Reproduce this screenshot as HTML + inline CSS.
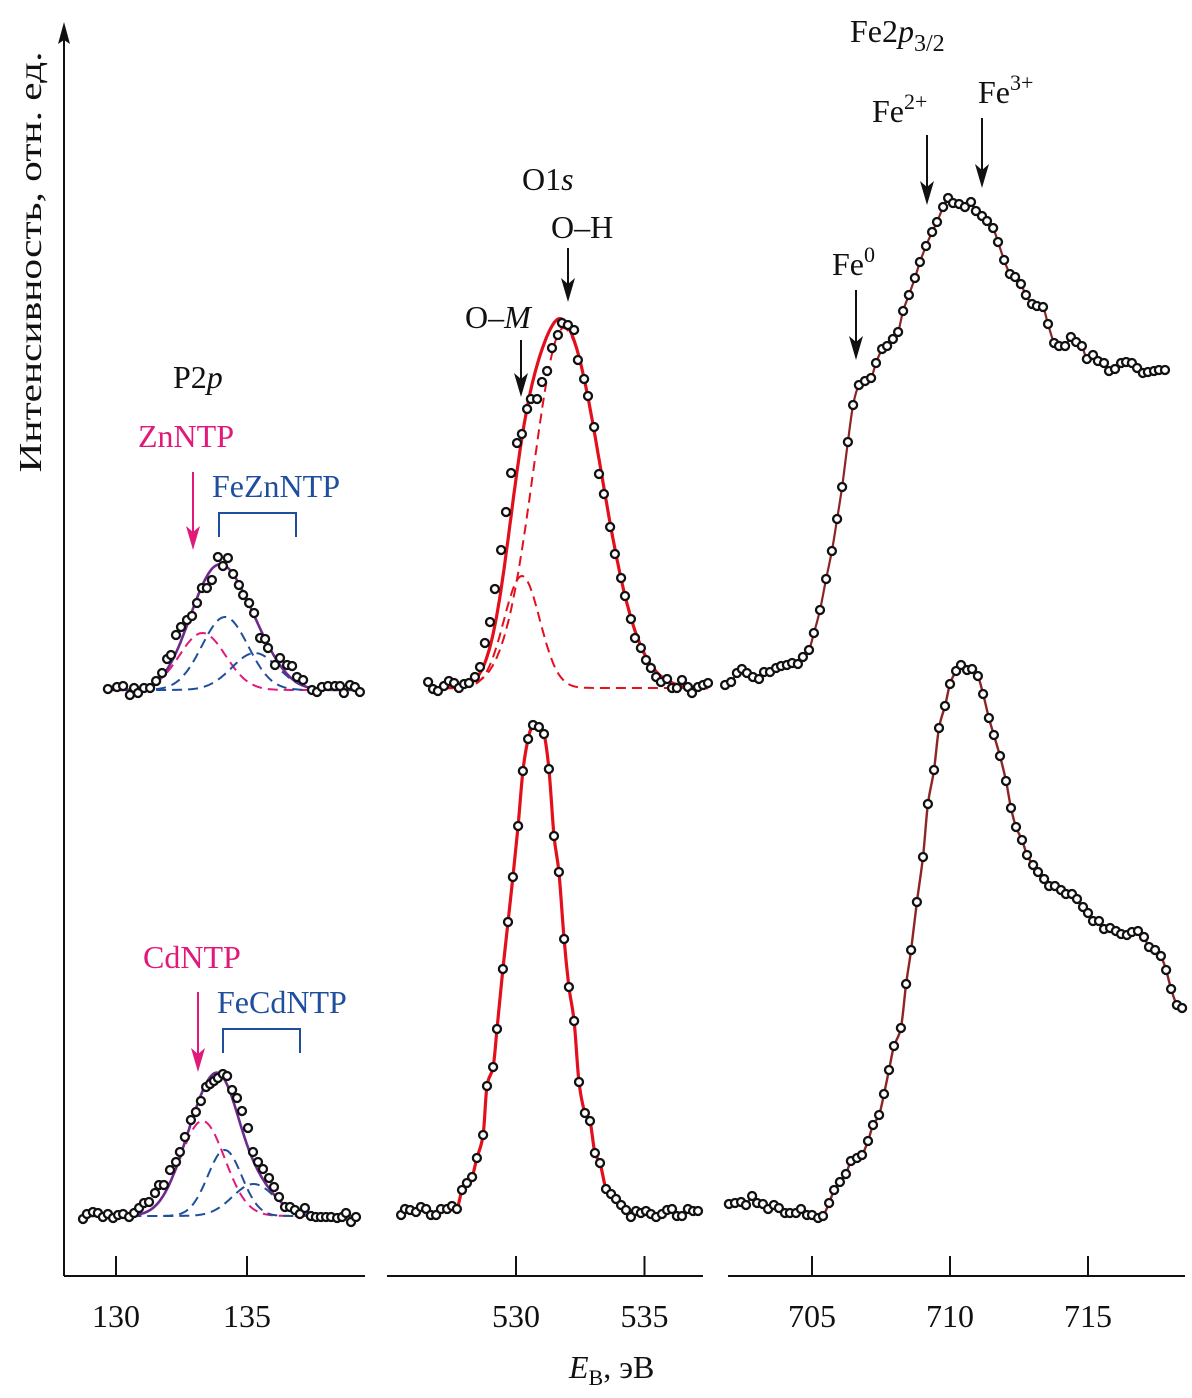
<!DOCTYPE html>
<html><head><meta charset="utf-8"><title>XPS spectra</title>
<style>
html,body{margin:0;padding:0;background:#fff;}
svg{display:block;font-family:"Liberation Serif","Noto Serif CJK SC",serif;}
</style></head>
<body>
<svg id="chart" width="1192" height="1398" viewBox="0 0 1192 1398" xmlns="http://www.w3.org/2000/svg">
<rect width="1192" height="1398" fill="#fff"/>
<g id="axes"></g>
<g id="curves"></g>
<g id="markers"></g>
<g id="annot" font-size="32" fill="#111">
  <text x="30" y="262" transform="rotate(-90 30 262)" text-anchor="middle" textLength="421" lengthAdjust="spacingAndGlyphs" dominant-baseline="central">Интенсивность, отн. ед.</text>
  <text x="569" y="1378"><tspan font-style="italic">E</tspan><tspan font-size="22" dy="7">B</tspan><tspan dy="-7">, эВ</tspan></text>
  <text x="173" y="388">P2<tspan font-style="italic">p</tspan></text>
  <text x="138" y="447" fill="#e0197a">ZnNTP</text>
  <text x="212" y="497" fill="#1f4e9c">FeZnNTP</text>
  <text x="143" y="968" fill="#e0197a">CdNTP</text>
  <text x="217" y="1013" fill="#1f4e9c">FeCdNTP</text>
  <text x="522" y="190">O1<tspan font-style="italic">s</tspan></text>
  <text x="551" y="238">O–H</text>
  <text x="465" y="328">O–<tspan font-style="italic">M</tspan></text>
  <text x="850" y="42">Fe2<tspan font-style="italic">p</tspan><tspan font-size="24" dy="9">3/2</tspan></text>
  <text x="872" y="122">Fe<tspan font-size="22" dy="-13">2+</tspan></text>
  <text x="978" y="103">Fe<tspan font-size="22" dy="-13">3+</tspan></text>
  <text x="832" y="275">Fe<tspan font-size="22" dy="-13">0</tspan></text>
</g>
</svg>
<script>
// ---------- data (energies in eV, intensities in a.u. above baseline) ----------
const p2pTopE = [129.69,130.04,130.27,130.53,130.69,130.84,131.07,131.30,131.53,131.76,131.95,132.10,132.29,132.48,132.71,132.90,133.09,133.28,133.47,133.66,133.89,134.08,134.27,134.47,134.69,134.85,135.08,135.27,135.50,135.69,135.80,136.07,136.26,136.53,136.72,136.91,137.14,137.48,137.67,137.86,138.09,138.36,138.55,138.70,138.93,139.12,139.31];
const p2pTopI = [1,3,4,-5,2,-3,2,2,9,17,31,35,55,63,70,74,87,102,102,110,133,124,132,116,105,95,87,77,52,51,42,25,32,25,24,13,10,0,-2,3,4,4,4,-3,5,3,-2];
// components: [centre eV, height, sigma-left eV, sigma-right eV]
const p2pTopComp = [[133.3,57,0.88,0.88],[134.16,73,0.88,0.88],[135.3,37,0.88,0.88]];

const p2pBotE = [128.74,128.89,129.12,129.31,129.50,129.69,129.89,130.08,130.27,130.50,130.69,130.88,131.07,131.26,131.49,131.64,131.83,132.06,132.29,132.44,132.63,132.86,133.05,133.24,133.44,133.59,133.74,133.89,134.08,134.24,134.43,134.62,134.81,135.04,135.23,135.42,135.61,135.84,136.03,136.22,136.45,136.64,136.83,137.02,137.21,137.44,137.63,137.82,138.02,138.21,138.44,138.63,138.78,138.97,139.16];
const p2pBotI = [-3,2,4,3,-1,2,-2,1,2,-1,3,8,13,14,23,31,31,46,54,64,79,96,104,115,129,132,135,138,142,140,126,118,105,88,64,54,47,38,29,19,9,9,6,2,8,0,-1,-1,-1,-1,-2,-1,3,-6,-1];
const p2pBotComp = [[133.3,95,0.85,0.85],[134.15,66,0.65,0.65],[135.25,32,0.8,0.8]];

const o1sTopE = [526.58,526.77,526.96,527.20,527.39,527.59,527.78,527.98,528.17,528.40,528.60,528.79,528.99,529.18,529.42,529.61,529.81,530.04,530.23,530.43,530.58,530.82,531.01,531.21,531.40,531.63,531.79,532.02,532.26,532.41,532.65,532.80,533.04,533.23,533.42,533.66,533.85,534.09,534.24,534.47,534.63,534.86,535.06,535.25,535.45,535.64,535.88,536.07,536.26,536.46,536.69,536.85,537.08,537.28,537.47];
const o1sTopI = [6,-1,-3,2,7,5,0,4,5,11,21,45,66,99,138,176,215,245,254,279,289,289,306,317,340,353,365,363,358,328,309,292,261,214,194,161,134,110,92,69,50,40,28,20,11,6,9,0,0,8,1,-5,1,3,5];
const o1sTopComp = [[530.23,112,0.7,0.7],[531.85,360,1.17,1.45]];

const o1sBotE = [525.53,525.68,525.88,526.11,526.30,526.50,526.69,526.89,527.08,527.32,527.51,527.70,527.90,528.09,528.29,528.48,528.72,528.87,529.11,529.26,529.49,529.69,529.88,530.08,530.27,530.47,530.66,530.89,531.09,531.28,531.48,531.67,531.87,532.06,532.26,532.45,532.68,532.88,533.07,533.27,533.50,533.70,533.89,534.09,534.28,534.47,534.67,534.86,535.06,535.25,535.45,535.68,535.88,536.07,536.26,536.46,536.69,536.89,537.08];
const o1sBotI = [-1,5,4,2,7,5,-1,-1,5,5,8,5,24,31,37,56,79,128,147,185,245,292,337,388,443,475,489,487,480,445,378,342,275,227,193,132,101,93,61,51,25,20,15,9,4,-3,3,1,3,0,-3,0,4,5,-2,-2,5,3,3];

const feTopE = [701.85,702.07,702.28,702.46,702.64,702.86,703.08,703.26,703.48,703.70,703.88,704.09,704.28,704.49,704.67,704.89,705.07,705.29,705.51,705.72,705.91,706.09,706.30,706.49,706.70,706.92,707.14,707.32,707.54,707.72,707.93,708.12,708.30,708.51,708.73,708.91,709.13,709.35,709.53,709.75,709.93,710.11,710.33,710.54,710.76,710.94,711.16,711.34,711.56,711.74,711.96,712.17,712.36,712.57,712.75,712.97,713.15,713.37,713.55,713.77,713.95,714.17,714.38,714.57,714.78,714.96,715.18,715.36,715.58,715.76,715.98,716.20,716.38,716.59,716.78,716.99,717.17,717.39,717.57,717.79];
const feTopI = [5,8,17,21,17,13,11,18,18,22,24,25,27,26,33,40,57,80,111,139,171,203,248,285,305,309,312,327,341,344,351,358,379,395,412,428,444,458,468,483,492,487,486,483,488,479,474,469,462,448,430,416,413,406,395,386,384,383,366,347,344,344,353,348,344,331,335,329,327,319,321,327,328,327,322,317,318,319,320,320];

const feBotE = [701.99,702.21,702.43,702.61,702.83,703.01,703.22,703.41,703.62,703.80,704.02,704.20,704.42,704.60,704.82,705.00,705.22,705.40,705.62,705.80,706.01,706.23,706.41,706.63,706.81,707.03,707.21,707.43,707.61,707.79,707.97,708.22,708.41,708.59,708.80,709.02,709.20,709.42,709.60,709.82,710.00,710.22,710.40,710.62,710.80,711.01,711.20,711.41,711.59,711.81,712.03,712.21,712.39,712.61,712.79,713.01,713.19,713.41,713.59,713.80,714.02,714.20,714.42,714.60,714.82,715.00,715.18,715.40,715.58,715.80,716.01,716.20,716.41,716.59,716.81,717.03,717.21,717.43,717.64,717.83,718.01,718.22,718.41];
const feBotI = [11,12,13,10,19,12,11,6,10,7,2,2,2,6,0,0,-3,-1,12,25,33,41,54,57,60,74,90,100,121,145,169,187,231,265,313,358,411,445,487,509,531,544,550,545,546,539,521,497,480,459,434,407,388,375,360,350,343,336,329,329,325,321,321,316,308,302,294,294,286,287,284,281,280,283,284,278,268,265,259,245,226,210,207];

const ticksP2p = [130,135];
const ticksO1s = [530,535];
const ticksFe = [705,710,715];

// ---------- axis functions ----------
const xP2p = e => 116 + (e - 130) * 26.2;
const xO1s = e => 516 + (e - 530) * 25.7;
const xFe  = e => 812 + (e - 705) * 27.6;
const yAt = (base, I) => base - I;
const AXIS_Y = 1276;

const NS = "http://www.w3.org/2000/svg";
function mk(tag, attrs, parent){
  const el = document.createElementNS(NS, tag);
  for (const k in attrs) el.setAttribute(k, attrs[k]);
  parent.appendChild(el);
  return el;
}
const gAx = document.getElementById('axes');
const gCu = document.getElementById('curves');
const gMk = document.getElementById('markers');

// ---------- axes ----------
let yl = mk('line', {x1:64, y1:AXIS_Y, x2:64, y2:34, stroke:'#111', 'stroke-width':2}, gAx);


let ya = mk('path', {d:'M64 22 L58 44 L64 40 L70 44 Z', fill:'#111'}, gAx);



function drawAxis(name, x1, x2, ticks, fx){
  const l = mk('line', {x1:x1, y1:AXIS_Y, x2:x2, y2:AXIS_Y, stroke:'#111', 'stroke-width':2}, gAx);
  
  
  ticks.forEach(t => {
    const x = fx(t);
    const tk = mk('line', {x1:x, y1:AXIS_Y, x2:x, y2:AXIS_Y-20, stroke:'#111', 'stroke-width':2}, gAx);
    
    
    const tx = mk('text', {x:x, y:1327, 'text-anchor':'middle', 'font-size':32, fill:'#111'}, gAx);
    tx.textContent = t;
    
    
  });
}
drawAxis('p2p', 64, 365, ticksP2p, xP2p);
drawAxis('o1s', 387, 703, ticksO1s, xO1s);
drawAxis('fe', 728, 1185, ticksFe, xFe);

// ---------- helpers ----------
function gauss(e, c){ const s = e < c[0] ? c[2] : c[3]; return c[1] * Math.exp(-Math.pow((e - c[0]) / s, 2) / 2); }
function modelPath(fx, base, comps, e0, e1){
  let d = '';
  for (let e = e0; e <= e1 + 1e-9; e += 0.04){
    let s = 0; comps.forEach(c => s += gauss(e, c));
    d += (d ? 'L' : 'M') + fx(e).toFixed(1) + ' ' + yAt(base, s).toFixed(1);
  }
  return d;
}
function smoothPath(pts){
  let d = 'M' + pts[0][0].toFixed(1) + ' ' + pts[0][1].toFixed(1);
  for (let i = 0; i < pts.length - 1; i++){
    const p0 = pts[Math.max(0, i-1)], p1 = pts[i], p2 = pts[i+1], p3 = pts[Math.min(pts.length-1, i+2)];
    const c1x = p1[0] + (p2[0]-p0[0])/6, c1y = p1[1] + (p2[1]-p0[1])/6;
    const c2x = p2[0] - (p3[0]-p1[0])/6, c2y = p2[1] - (p3[1]-p1[1])/6;
    d += 'C' + c1x.toFixed(1)+' '+c1y.toFixed(1)+' '+c2x.toFixed(1)+' '+c2y.toFixed(1)+' '+p2[0].toFixed(1)+' '+p2[1].toFixed(1);
  }
  return d;
}
function drawMarkers(name, E, I, fx, base){
  E.forEach((e, i) => {
    const c = mk('circle', {cx:fx(e).toFixed(1), cy:yAt(base, I[i]).toFixed(1), r:4, fill:'#fff', stroke:'#111', 'stroke-width':2.3}, gMk);
    
    
  });
}
function drawComps(name, comps, colors, fx, base, e0, e1){
  comps.forEach((c, i) => {
    const p = mk('path', {d:modelPath(fx, base, [c], e0, e1), fill:'none', stroke:colors[i], 'stroke-width':2, 'stroke-dasharray':'10,6'}, gCu);
    
    
  });
  const t = mk('path', {d:modelPath(fx, base, comps, e0, e1), fill:'none', stroke: name.startsWith('o1s') ? '#e3101c' : '#6d2b8e', 'stroke-width': name.startsWith('o1s') ? 3.2 : 2.6}, gCu);
  
  
}
function drawSmooth(name, E, I, fx, base, color, w){
  const pts = E.map((e, i) => [fx(e), yAt(base, I[i])]);
  const p = mk('path', {d:smoothPath(pts), fill:'none', stroke:color, 'stroke-width':w}, gCu);
  
  
}

// ---------- series ----------
const MAG = '#e0197a', BLU = '#1f4e9c', RED = '#e3101c';
drawComps('p2p-top', p2pTopComp, [MAG, BLU, BLU], xP2p, 690, 129.7, 139.3);
drawComps('p2p-bottom', p2pBotComp, [MAG, BLU, BLU], xP2p, 1216, 128.75, 139.2);
drawComps('o1s-top', o1sTopComp, [RED, RED], xO1s, 688, 526.6, 537.5);
drawSmooth('o1s-bottom', o1sBotE, o1sBotI, xO1s, 1214, RED, 3.2);
drawSmooth('fe-top', feTopE, feTopI, xFe, 690, '#8e2424', 2.2);
drawSmooth('fe-bottom', feBotE, feBotI, xFe, 1215, '#8e2424', 2.4);

drawMarkers('p2p-top', p2pTopE, p2pTopI, xP2p, 690);
drawMarkers('p2p-bottom', p2pBotE, p2pBotI, xP2p, 1216);
drawMarkers('o1s-top', o1sTopE, o1sTopI, xO1s, 688);
drawMarkers('o1s-bottom', o1sBotE, o1sBotI, xO1s, 1214);
drawMarkers('fe-top', feTopE, feTopI, xFe, 690);
drawMarkers('fe-bottom', feBotE, feBotI, xFe, 1215);

// ---------- annotation arrows & brackets ----------
const gAn = document.getElementById('annot');
function arrow(name, x, y1, y2, color){
  const l = mk('line', {x1:x, y1:y1, x2:x, y2:y2-14, stroke:color, 'stroke-width':2}, gAn);
  
  
  const h = mk('path', {d:`M${x} ${y2} L${x-7} ${y2-24} L${x} ${y2-18} L${x+7} ${y2-24} Z`, fill:color}, gAn);
  
  
}
function bracket(name, x1, x2, yTop, yBot){
  const p = mk('path', {d:`M${x1} ${yBot} L${x1} ${yTop} L${x2} ${yTop} L${x2} ${yBot}`, fill:'none', stroke:BLU, 'stroke-width':2}, gAn);
  
  
}
arrow('znntp', 193, 472, 550, MAG);
bracket('feznntp-bracket', 219, 296, 513, 537);
arrow('cdntp', 198, 992, 1072, MAG);
bracket('fecdntp-bracket', 223, 300, 1029, 1053);
arrow('oh', 568, 248, 302, '#111');
arrow('om', 521, 340, 397, '#111');
arrow('fe2plus', 927, 135, 205, '#111');
arrow('fe3plus', 982, 118, 188, '#111');
arrow('fe0', 856, 290, 360, '#111');
</script>
</body></html>
